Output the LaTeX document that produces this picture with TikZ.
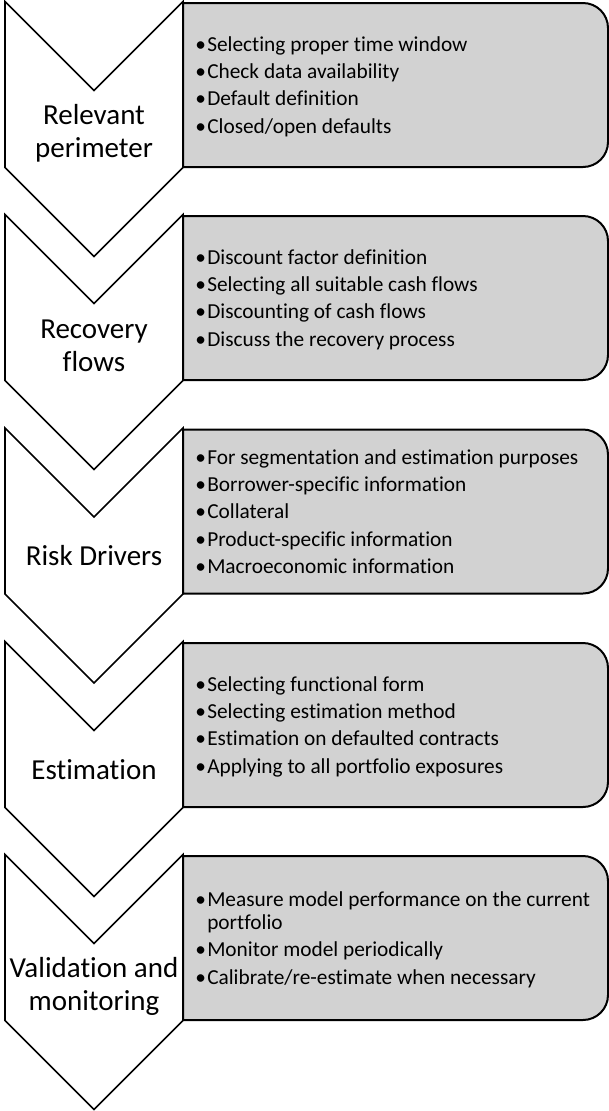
\documentclass[tikz,border=0pt]{standalone}
\usepackage{fontspec}
\setmainfont{Carlito}[Ligatures=NoCommon]
\usepackage{tikz}

\definecolor{boxgray}{RGB}{210,210,210}

\tikzset{
  chevron/.style={draw=black, line width=1.2pt, fill=white, line join=miter},
  infobox/.style={draw=black, line width=1.5pt, fill=boxgray},
  steplabel/.style={align=center, inner sep=0pt, font=\fontsize{21.75}{24.5}\selectfont},
  itemtext/.style={align=left, anchor=west, inner sep=0pt, font=\fontsize{16}{17.5}\selectfont},
}
\newcommand{\bul}{\makebox[9pt][l]{\textbullet}}

\begin{document}
\begin{tikzpicture}[x=0.75pt,y=0.75pt,yscale=-1,xscale=1]
		\useasboundingbox (0,0) rectangle (609,1111);
		
		%Shape: Box 1
		\draw [infobox] (183,3) -- (583,3) arc [start angle=-90, end angle=0, radius=25] -- (608,142) arc [start angle=0, end angle=90, radius=25] -- (183,167) -- cycle ;
		%Shape: Box 2
		\draw [infobox] (183,216) -- (583,216) arc [start angle=-90, end angle=0, radius=25] -- (608,355) arc [start angle=0, end angle=90, radius=25] -- (183,380) -- cycle ;
		%Shape: Box 3
		\draw [infobox] (183,429.5) -- (583,429.5) arc [start angle=-90, end angle=0, radius=25] -- (608,568.5) arc [start angle=0, end angle=90, radius=25] -- (183,593.5) -- cycle ;
		%Shape: Box 4
		\draw [infobox] (183,643) -- (583,643) arc [start angle=-90, end angle=0, radius=25] -- (608,782) arc [start angle=0, end angle=90, radius=25] -- (183,807) -- cycle ;
		%Shape: Box 5
		\draw [infobox] (183,856) -- (583,856) arc [start angle=-90, end angle=0, radius=25] -- (608,995) arc [start angle=0, end angle=90, radius=25] -- (183,1020) -- cycle ;
		
		%Shape: Chevron 1
		\draw [chevron] (5,1.5) -- (94,90.5) -- (183,1.5) -- (183,167.5) -- (94,256.5) -- (5,167.5) -- cycle ;
		%Shape: Chevron 2
		\draw [chevron] (5,214.5) -- (94,303.5) -- (183,214.5) -- (183,380.5) -- (94,469.5) -- (5,380.5) -- cycle ;
		%Shape: Chevron 3
		\draw [chevron] (5,428) -- (94,517) -- (183,428) -- (183,594) -- (94,683) -- (5,594) -- cycle ;
		%Shape: Chevron 4
		\draw [chevron] (5,641.5) -- (94,730.5) -- (183,641.5) -- (183,807.5) -- (94,896.5) -- (5,807.5) -- cycle ;
		%Shape: Chevron 5
		\draw [chevron] (5,854.5) -- (94,943.5) -- (183,854.5) -- (183,1020.5) -- (94,1109.5) -- (5,1020.5) -- cycle ;
		
		% Text Node
		\node [steplabel] (perimeter) at (94,133) {Relevant\\perimeter};
		% Text Node
		\node [steplabel] (recovery) at (94,346) {Recovery\\flows};
		% Text Node
		\node [steplabel] (drivers) at (94,556) {Risk Drivers};
		% Text Node
		\node [steplabel] (estimation) at (94,769.5) {Estimation};
		% Text Node
		\node [steplabel] (validation) at (94,986.5) {Validation and\\monitoring};
		
		% Text Node
		\node [itemtext] (perimeteritems) at (195,86.5) {\bul Selecting proper time window\\[3pt]\bul Check data availability\\[3pt]\bul Default definition\\[3pt]\bul Closed/open defaults};
		% Text Node
		\node [itemtext] (recoveryitems) at (195,299.5) {\bul Discount factor definition\\[3pt]\bul Selecting all suitable cash flows\\[3pt]\bul Discounting of cash flows\\[3pt]\bul Discuss the recovery process};
		% Text Node
		\node [itemtext] (driveritems) at (195,511.5) {\bul For segmentation and estimation purposes\\[3pt]\bul Borrower-specific information\\[3pt]\bul Collateral\\[3pt]\bul Product-specific information\\[3pt]\bul Macroeconomic information};
		% Text Node
		\node [itemtext] (estimationitems) at (195,726.5) {\bul Selecting functional form\\[3pt]\bul Selecting estimation method\\[3pt]\bul Estimation on defaulted contracts\\[3pt]\bul Applying to all portfolio exposures};
		% Text Node
		\node [itemtext] (validationitems) at (195,939.5) {\bul Measure model performance on the current\\\hspace*{9pt}portfolio\\[3pt]\bul Monitor model periodically\\[3pt]\bul Calibrate/re-estimate when necessary};
		
\end{tikzpicture}
\end{document}
